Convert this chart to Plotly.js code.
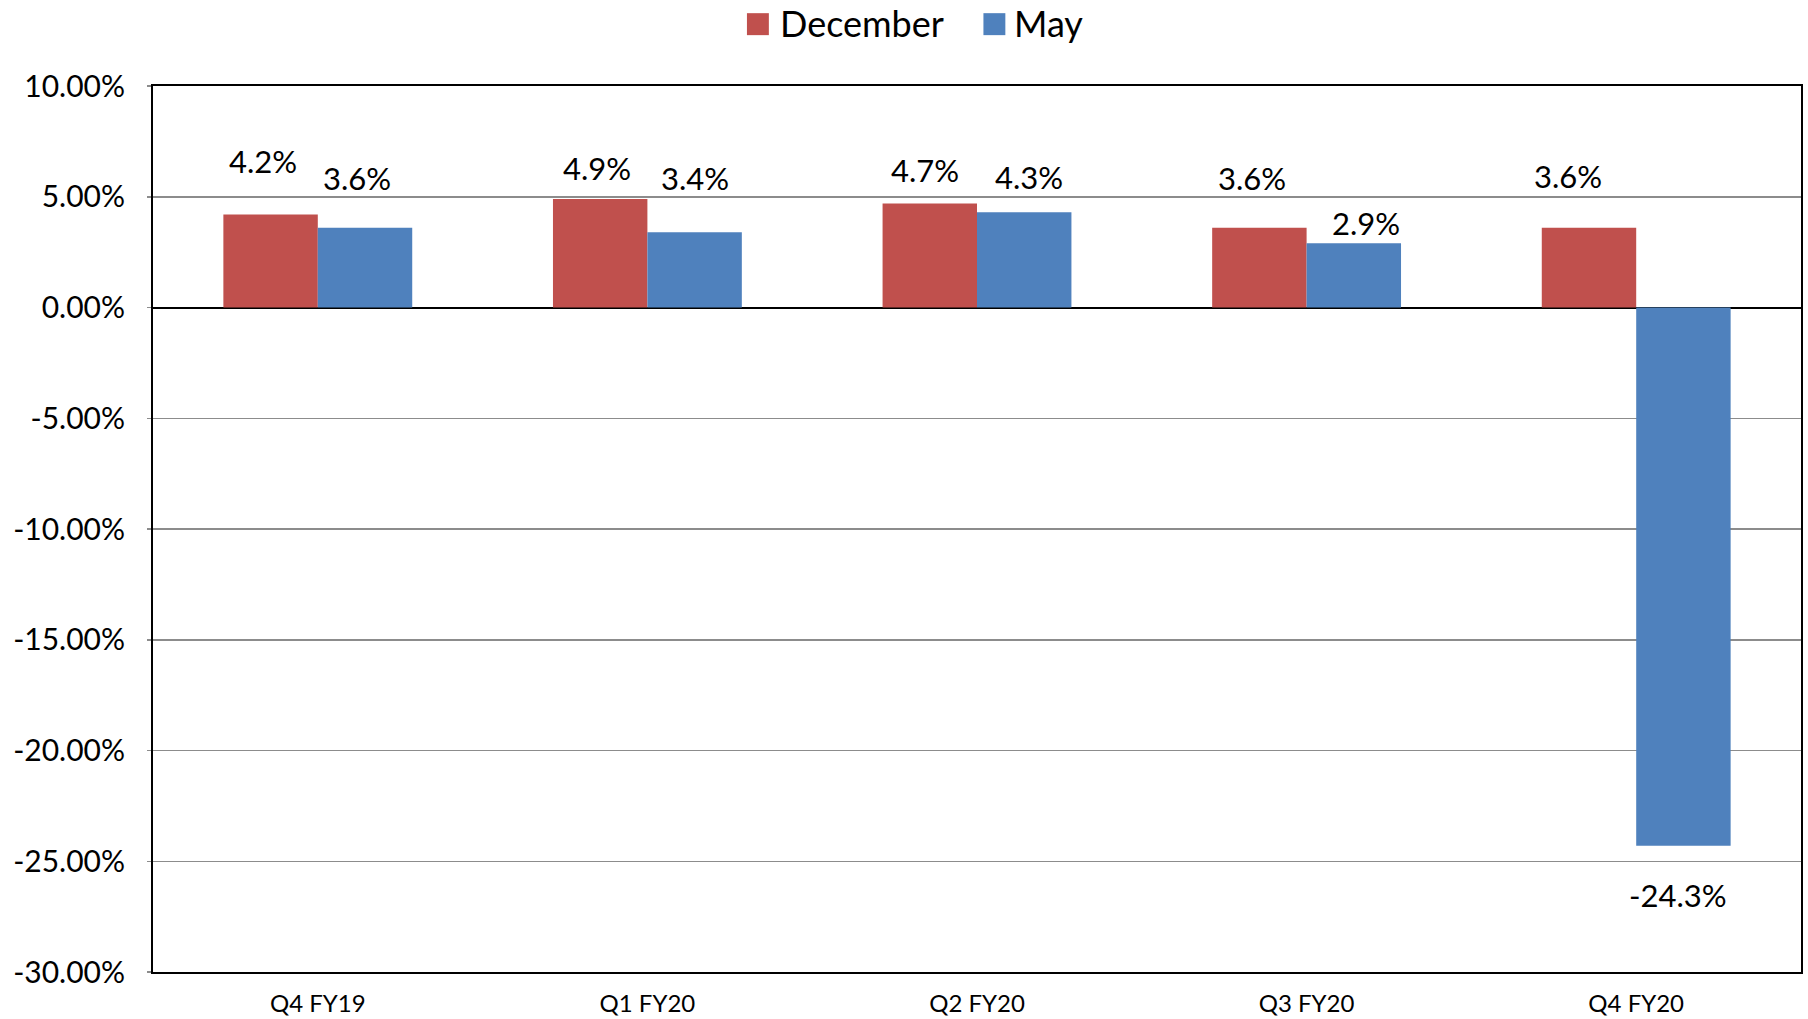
<!DOCTYPE html>
<html>
<head>
<meta charset="utf-8">
<script src="https://cdn.plot.ly/plotly-3.0.1.min.js"></script>
<style>
html,body{margin:0;padding:0;background:#fff;}
#chart{width:1808px;height:1019px;}
</style>
</head>
<body>
<div id="chart"></div>
<script>
// ---- data ----
const categories = ["Q4 FY19", "Q1 FY20", "Q2 FY20", "Q3 FY20", "Q4 FY20"];
const seriesNames = ["December", "May"];
const december = [4.2, 4.9, 4.7, 3.6, 3.6];
const may = [3.6, 3.4, 4.3, 2.9, -24.3];
const yTickVals = [10, 5, 0, -5, -10, -15, -20, -25, -30];

// ---- styling / layout helpers (not data) ----
const colors = ["#C0504D", "#4F81BD"];
const FONT = "Lato, 'Noto Sans', sans-serif";
const bargap = 0.427;
const half = (1 - bargap) / 4;   // bar centre offset in category units
// label nudges in px [dx, dyUp], as placed in the original
const nudgeDec = [[-8, 53], [-3, 31], [-5, 33], [-7, 50], [-21, 52]];
const nudgeMay = [[-8, 50], [0, 54], [5, 35], [12, 20], [-5, -49]];

const fmtPct = (v, d) => (v < 0 ? "-" : "") + Math.abs(v).toFixed(d) + "%";

const traces = [december, may].map((vals, s) => ({
  type: "bar",
  name: seriesNames[s],
  x: categories,
  y: vals,
  marker: { color: colors[s], line: { width: 0 } },
  showlegend: false,
  hoverinfo: "x+y"
}));

const annotations = [];
[december, may].forEach((vals, s) => {
  const nudge = s === 0 ? nudgeDec : nudgeMay;
  vals.forEach((v, i) => {
    annotations.push({
      xref: "x", yref: "y",
      x: i + (s === 0 ? -half : half),
      y: v,
      text: fmtPct(v, 1),
      showarrow: false,
      xanchor: "center", yanchor: "middle",
      xshift: nudge[i][0], yshift: nudge[i][1],
      font: { family: FONT, size: 31, color: "#000" }
    });
  });
});

// custom legend (large square swatches like the original)
const legendItems = [
  { x0: 0.3604, x1: 0.3737, tx: 0.3790 },
  { x0: 0.5039, x1: 0.5172, tx: 0.5211 }
];
const shapes = [];
legendItems.forEach((it, s) => {
  shapes.push({
    type: "rect", xref: "paper", yref: "paper",
    x0: it.x0, x1: it.x1, y0: 1.0574, y1: 1.0822,
    fillcolor: colors[s], line: { width: 0 }
  });
  annotations.push({
    xref: "paper", yref: "paper", x: it.tx, y: 1.0712,
    xanchor: "left", yanchor: "middle", showarrow: false,
    text: seriesNames[s],
    font: { family: FONT, size: 36, color: "#000" }
  });
});

const layout = {
  width: 1808, height: 1019,
  margin: { l: 153, r: 7, t: 86, b: 47 },
  paper_bgcolor: "#fff", plot_bgcolor: "#fff",
  barmode: "group", bargap: bargap, bargroupgap: 0,
  showlegend: false,
  font: { family: FONT, color: "#000" },
  xaxis: {
    type: "category",
    showgrid: false,
    showline: true, linecolor: "#000", linewidth: 2, mirror: true,
    ticks: "", tickfont: { family: FONT, size: 24, color: "#000" },
    ticklabelstandoff: 9,
    zeroline: false
  },
  yaxis: {
    range: [-30, 10],
    tickvals: yTickVals,
    ticktext: yTickVals.map(v => fmtPct(v, 2)),
    showgrid: true, gridcolor: "#8c8c8c", gridwidth: 1.5,
    showline: true, linecolor: "#000", linewidth: 2, mirror: true,
    ticks: "outside", ticklen: 4, tickcolor: "#8c8c8c", tickwidth: 1.5,
    tickfont: { family: FONT, size: 30, color: "#000" },
    ticklabelstandoff: 16,
    zeroline: true, zerolinecolor: "#000", zerolinewidth: 2
  },
  annotations: annotations,
  shapes: shapes
};

Plotly.newPlot("chart", traces, layout, { displayModeBar: false, staticPlot: true });
</script>
</body>
</html>
